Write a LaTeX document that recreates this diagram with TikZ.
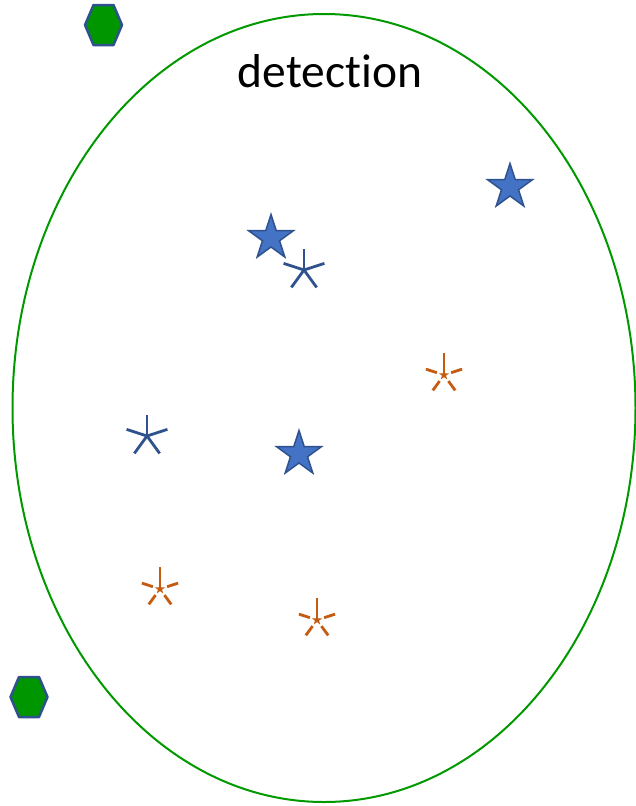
\documentclass[tikz,border=0pt]{standalone}
\usepackage{fontspec}
\setmainfont{Carlito}[Ligatures={NoCommon}]
\usetikzlibrary{shapes.geometric}
\definecolor{elgreen}{RGB}{0,153,0}
\definecolor{hexgreen}{RGB}{0,150,0}
\definecolor{bluefill}{RGB}{68,114,196}
\definecolor{blueline}{RGB}{47,82,143}
\definecolor{orangeline}{RGB}{197,90,17}
\tikzset{
  hexstyle/.style={fill=hexgreen, draw=blueline, line width=2.5pt, line join=round},
  starnode/.style={star, star points=5, star point ratio=2.618, minimum size=47pt, inner sep=0pt, fill=bluefill, draw=blueline, line width=1.5pt},
  astline/.style={draw=blueline, line width=2.8pt},
  orline/.style={draw=orangeline, line width=2.8pt},
  orstar/.style={star, star points=5, star point ratio=2.618, minimum size=11pt, inner sep=0pt, fill=orangeline, draw=none},
}
\begin{document}
\begin{tikzpicture}[x=1pt,y=-1pt]
\useasboundingbox (0,0) rectangle (636,806);
% ellipse
\coordinate (ec) at (324,408);
\draw[elgreen, line width=2pt] (ec) ellipse [x radius=311.5, y radius=394];
\node[anchor=base, font=\fontsize{47.5}{50}\selectfont, inner sep=0pt] (title) at (330,87) {detection};
% hexagons
\coordinate (h1) at (103.5,25);
\coordinate (h2) at (29,697);
\foreach \h in {h1,h2}
  \draw[hexstyle, shift={(\h)}] (-18.5,0) -- (-10,-20) -- (10,-20) -- (18.5,0) -- (10,20) -- (-10,20) -- cycle;
% stars
\node[starnode] (s1) at (510,187) {};
\node[starnode] (s2) at (271,238) {};
\node[starnode] (s3) at (299,454) {};
% blue asterisks
\coordinate (a1) at (304,270);
\coordinate (a2) at (147,436);
\foreach \p in {a1,a2}
  \foreach \a in {270,342,54,126,198}
    \draw[astline, shift={(\p)}] (0,0) -- (\a:21.5);
% orange asterisks
\coordinate (o1) at (444,375);
\coordinate (o2) at (160,589);
\coordinate (o3) at (317,620);
\foreach \p in {o1,o2,o3}{
  \draw[orline, shift={(\p)}] (0,0) -- (270:22);
  \foreach \a in {342,54,126,198}
    \draw[orline, shift={(\p)}] (\a:7.5) -- (\a:19);
  \node[orstar] at (\p) {};
}
\end{tikzpicture}
\end{document}
